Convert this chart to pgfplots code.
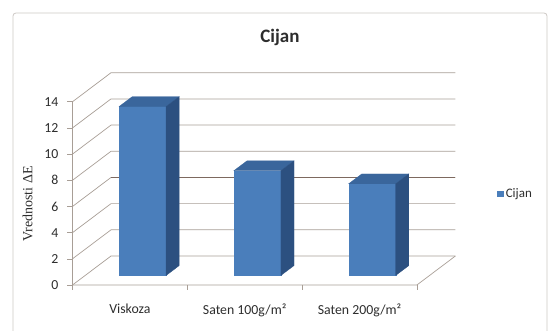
\documentclass[border=0pt]{standalone}
\usepackage{pgfplots}
\pgfplotsset{compat=1.18}
\usepackage{pgfplotstable}
\usepackage{fontspec}
\setmainfont{Carlito}
\newfontfamily\serifface{Liberation Serif}

\definecolor{barfront}{RGB}{74,126,187}
\definecolor{bartop}{RGB}{58,102,156}
\definecolor{barside}{RGB}{44,80,128}
\definecolor{gridc}{RGB}{168,158,150}
\definecolor{gridd}{RGB}{125,105,95}
\definecolor{framec}{RGB}{205,200,196}
\definecolor{textc}{RGB}{45,45,45}

% values of Delta E per fabric
\pgfplotstableread{
idx val
0 12.9
1 8.0
2 7.0
}\cijan

% oblique depth of the chart box (axis units) and bar depth fractions
\def\DX{0.3354}
\def\DY{2.2155}
\def\fa{0.33}
\def\fb{0.67}

\begin{document}
\begin{tikzpicture}
\useasboundingbox (0,0) rectangle (552pt,331pt);
\draw[framec, line width=0.8pt, rounded corners=3pt]
  (13pt,-3pt) -- (13pt,318pt) -- (547pt,318pt) -- (547pt,-3pt);
\node[font=\fontsize{19}{22}\selectfont\bfseries, text=textc] at (280pt,294pt) {Cijan};
\node[rotate=90, font=\serifface\fontsize{14}{16}\selectfont, text=textc] at (27.5pt,127pt) {Vrednosti ΔE};
\begin{axis}[
  at={(72.5pt,46pt)}, anchor=south west,
  x=114.8pt, y=13.09pt,
  xmin=0, xmax=3.3354, ymin=0, ymax=16.2155,
  clip=false,
  axis x line*=bottom, axis y line*=left,
  axis line style={draw=none},
  /pgf/number format/assume math mode=true,
  tick align=outside,
  major tick length=5pt,
  ytick={0,2,...,14},
  ytick style={draw=gridc, line width=0.6pt},
  xtick={0.5,1.5,2.5},
  xticklabels={Viskoza, Saten 100g/m², Saten 200g/m²},
  xtick style={draw=none},
  tick label style={font=\fontsize{13.8}{16}\selectfont, text=textc},
  yticklabel style={inner sep=0pt, xshift=-9pt},
  xticklabel style={inner sep=0pt, yshift=-14pt},
  legend style={at={(1.1086,0.4286)}, anchor=west, draw=none, fill=none,
    inner sep=0pt, font=\fontsize{13}{15}\selectfont, text=textc},
  legend image code/.code={\fill[barfront] (0pt,-3.3pt) rectangle (6.6pt,3.3pt);},
]
% left wall diagonals and back wall gridlines
\pgfmathsetmacro\xe{3+\DX}
\pgfplotsinvokeforeach{0,2,4,6,8,10,12,14}{
  \pgfmathsetmacro\ya{#1+\DY}
  \addplot[gridc, line width=0.7pt, forget plot] coordinates {(0,#1) (\DX,\ya) (\xe,\ya)};
}
% the gridline at 6 on the back wall is drawn darker
\pgfmathsetmacro\ya{6+\DY}
\addplot[gridd, line width=1pt, forget plot] coordinates {(\DX,\ya) (\xe,\ya)};
% front floor edge, right floor edge and front value axis
\addplot[gridc, line width=0.7pt, forget plot] coordinates {(0,0) (3,0) (\xe,\DY)};
\addplot[gridc, line width=0.7pt, forget plot] coordinates {(0,0) (0,14)};
% category separators below the floor
\pgfplotsinvokeforeach{0,1,2,3}{
  \addplot[gridc, line width=0.6pt, forget plot] coordinates {(#1,0) (#1,-0.38)};
}
% bars: front, top and side faces
\pgfplotsinvokeforeach{0,1,2}{
  \pgfplotstablegetelem{#1}{val}\of\cijan
  \let\barval\pgfplotsretval
  \pgfmathsetmacro\xl{#1+0.295+\fa*\DX}
  \pgfmathsetmacro\xr{\xl+0.41}
  \pgfmathsetmacro\yb{\fa*\DY}
  \pgfmathsetmacro\yt{\barval+\fa*\DY}
  \pgfmathsetmacro\xlb{\xl+(\fb-\fa)*\DX}
  \pgfmathsetmacro\xrb{\xr+(\fb-\fa)*\DX}
  \pgfmathsetmacro\ybb{\fb*\DY}
  \pgfmathsetmacro\ytb{\barval+\fb*\DY}
  \addplot[fill=barfront, draw=barfront, line width=0.3pt, forget plot]
    coordinates {(\xl,\yb) (\xr,\yb) (\xr,\yt) (\xl,\yt)} -- cycle;
  \addplot[fill=bartop, draw=bartop, line width=0.3pt, forget plot]
    coordinates {(\xl,\yt) (\xr,\yt) (\xrb,\ytb) (\xlb,\ytb)} -- cycle;
  \addplot[fill=barside, draw=barside, line width=0.3pt, forget plot]
    coordinates {(\xr,\yb) (\xrb,\ybb) (\xrb,\ytb) (\xr,\yt)} -- cycle;
}
\addlegendimage{fill=barfront, draw=none}
\addlegendentry{Cijan}
\end{axis}
\end{tikzpicture}
\end{document}
